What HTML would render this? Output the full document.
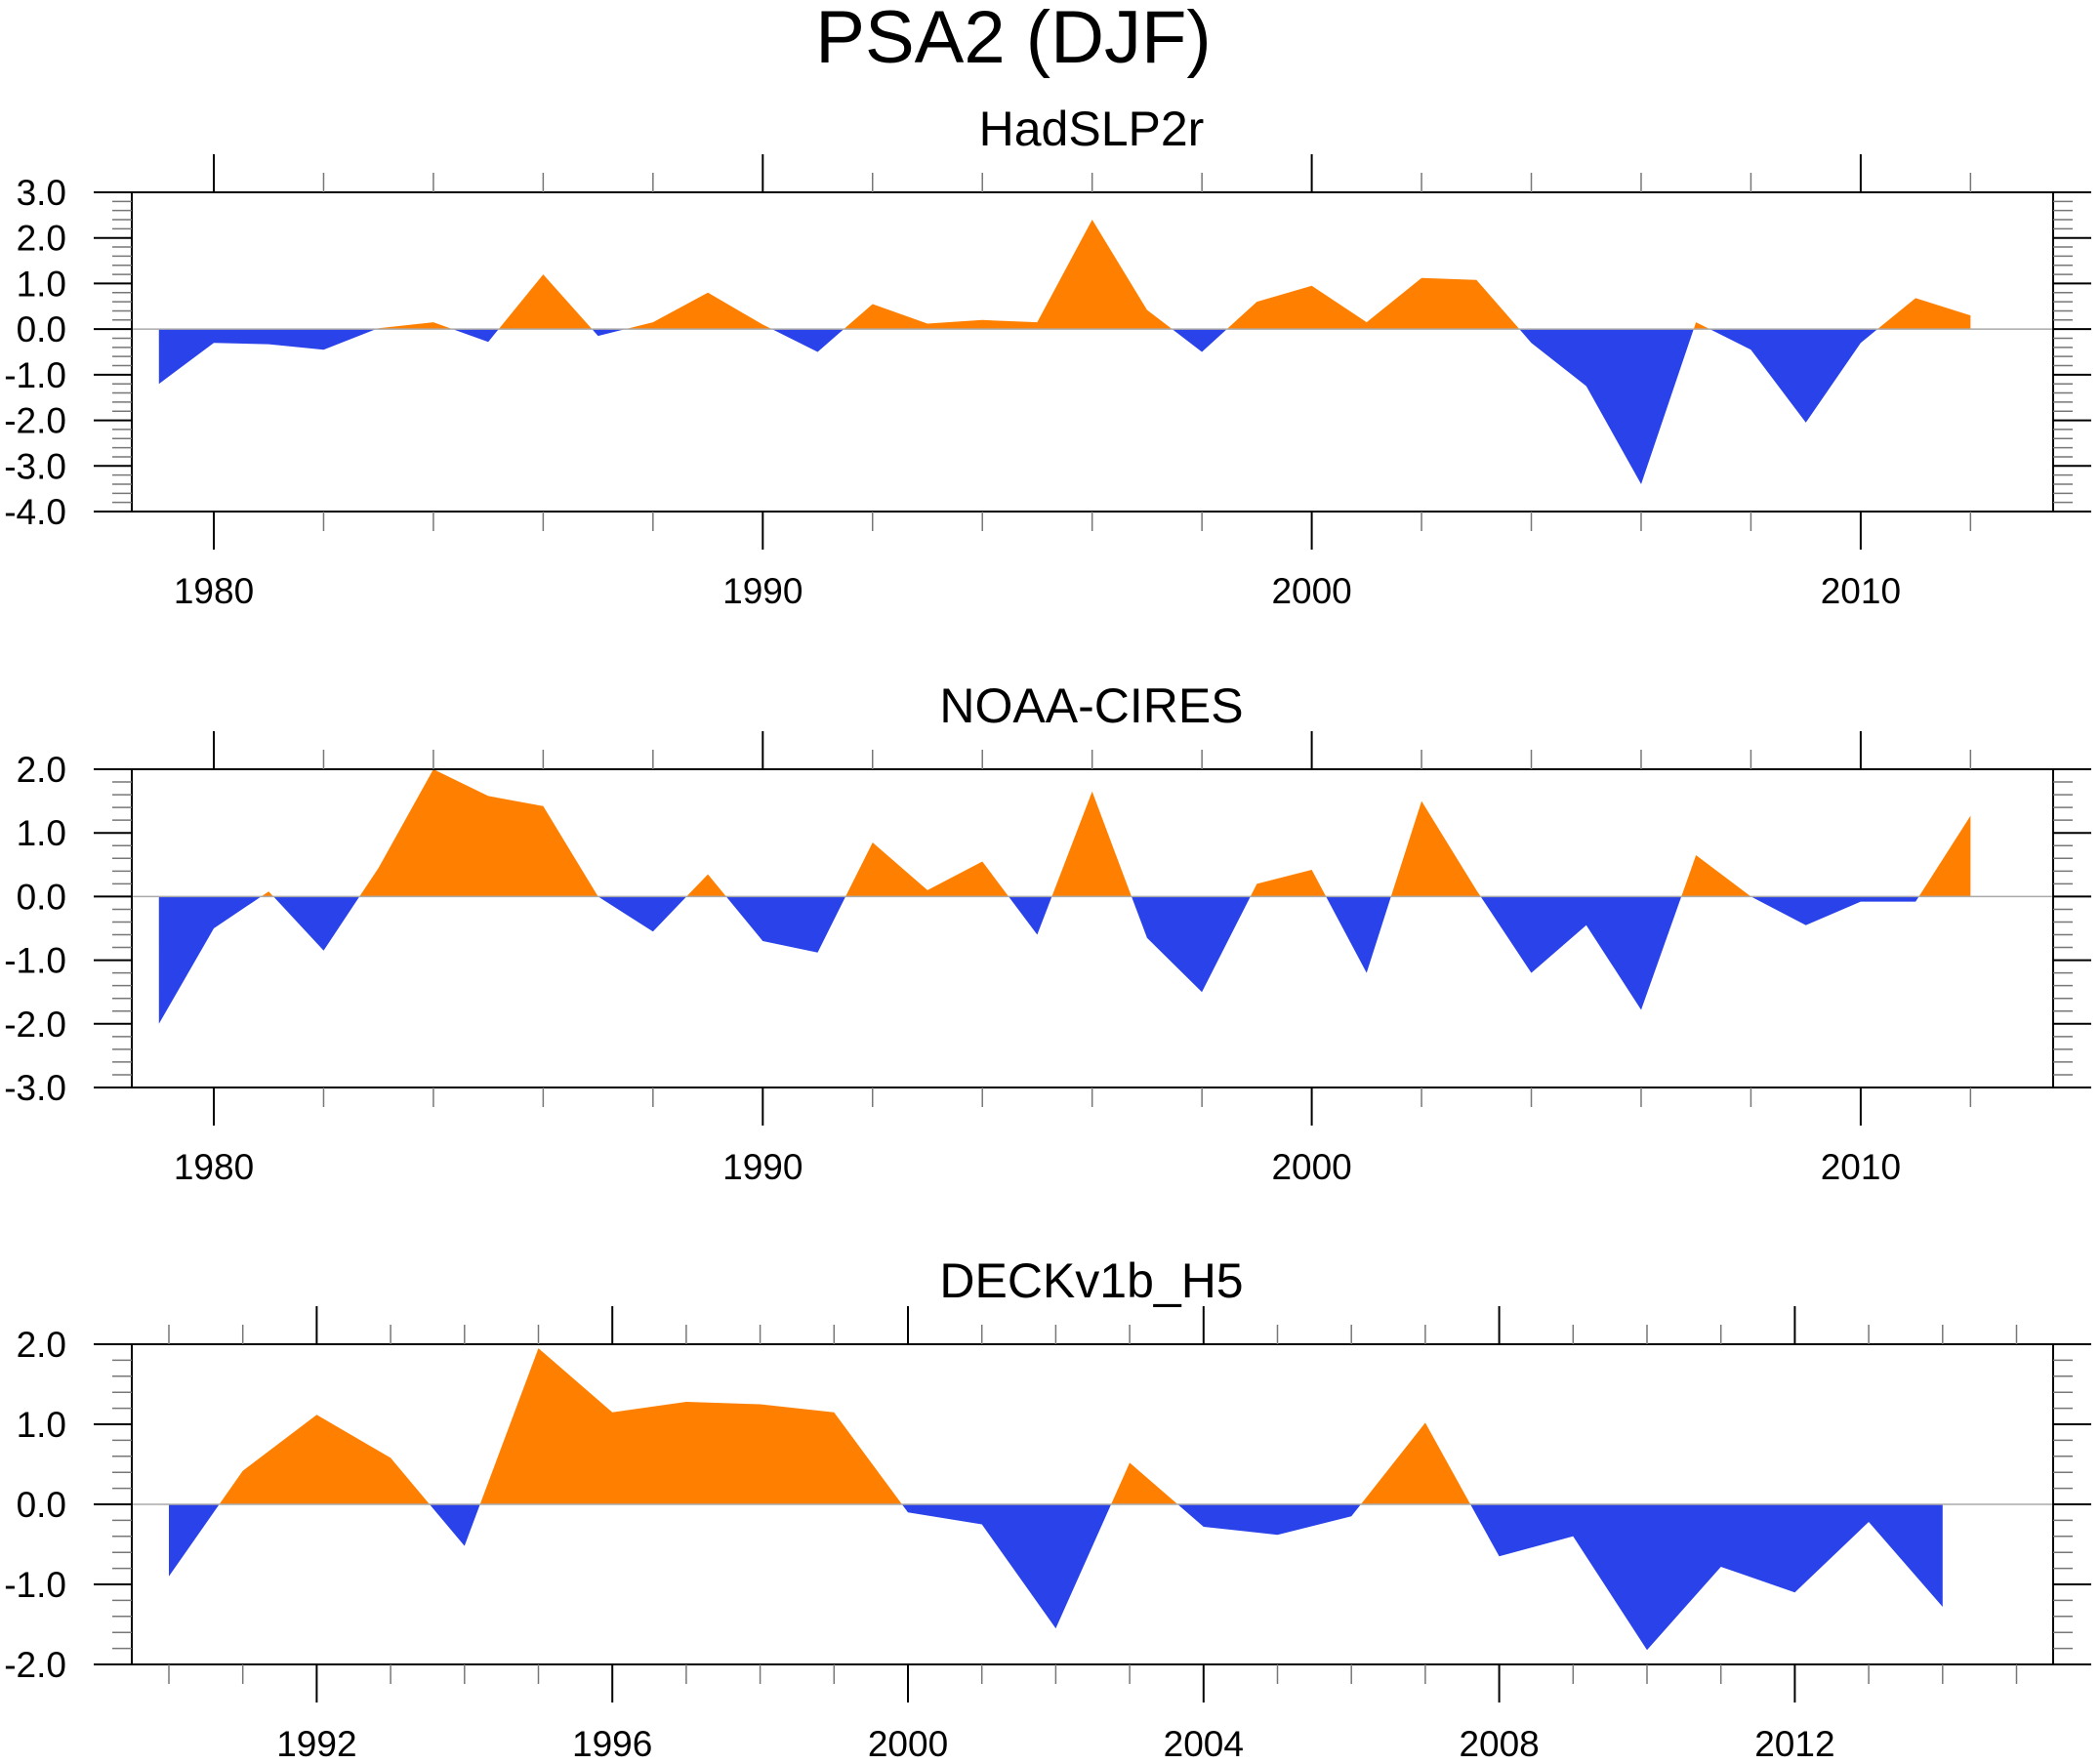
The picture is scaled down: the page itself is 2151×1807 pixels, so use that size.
<!DOCTYPE html>
<html><head><meta charset="utf-8"><style>
body{margin:0;background:#fff}
svg{display:block;font-family:"Liberation Sans",sans-serif}
</style></head><body>
<svg id="s" width="2151" height="1807" viewBox="0 0 2151 1807">
<text x="1038" y="64" font-size="76" text-anchor="middle">PSA2 (DJF)</text>
</svg>
<script>
const years1=[1979,1980,1981,1982,1983,1984,1985,1986,1987,1988,1989,1990,1991,1992,1993,1994,1995,1996,1997,1998,1999,2000,2001,2002,2003,2004,2005,2006,2007,2008,2009,2010,2011,2012];
const had=[-1.2,-0.3,-0.33,-0.45,0.02,0.15,-0.28,1.2,-0.15,0.15,0.8,0.1,-0.5,0.55,0.12,0.2,0.15,2.4,0.42,-0.5,0.6,0.95,0.15,1.12,1.08,-0.3,-1.25,-3.4,0.15,-0.45,-2.05,-0.3,0.68,0.3];
const noaa=[-2.0,-0.5,0.08,-0.85,0.45,2.0,1.58,1.42,0.0,-0.55,0.35,-0.7,-0.88,0.85,0.1,0.55,-0.6,1.65,-0.65,-1.5,0.2,0.42,-1.2,1.5,0.1,-1.2,-0.45,-1.78,0.65,0.0,-0.45,-0.08,-0.08,1.27];
const years3=[1990,1991,1992,1993,1994,1995,1996,1997,1998,1999,2000,2001,2002,2003,2004,2005,2006,2007,2008,2009,2010,2011,2012,2013,2014];
const deck=[-0.9,0.42,1.12,0.58,-0.52,1.95,1.15,1.28,1.25,1.15,-0.1,-0.25,-1.55,0.52,-0.28,-0.38,-0.15,1.02,-0.65,-0.4,-1.82,-0.78,-1.1,-0.22,-1.28];
const yTicks1=["3.0","2.0","1.0","0.0","-1.0","-2.0","-3.0","-4.0"];
const yTicks2=["2.0","1.0","0.0","-1.0","-2.0","-3.0"];
const yTicks3=["2.0","1.0","0.0","-1.0","-2.0"];
const xLabels1=[1980,1990,2000,2010];
const xLabels3=[1992,1996,2000,2004,2008,2012];

const S=document.getElementById('s');
const NS='http://www.w3.org/2000/svg';
function el(t,a){const e=document.createElementNS(NS,t);for(const k in a)e.setAttribute(k,a[k]);S.appendChild(e);return e;}

function panel(o){
  const L=135,R=2103,T=o.top,B=o.bot;
  const X=yr=>o.x0+(yr-o.yr0)*o.dx;
  const Y=v=>T+(o.ymax-v)*(B-T)/(o.ymax-o.ymin);
  const t=el('text',{x:1118,y:T-48,'font-size':50,'text-anchor':'middle'});t.textContent=o.title;
  
  
  const pts=[];
  for(let i=0;i<o.xs.length;i++){
    if(i>0){const a=o.vs[i-1],b=o.vs[i];if(a*b<0){const f=a/(a-b);pts.push([o.xs[i-1]+f*(o.xs[i]-o.xs[i-1]),0]);}}
    pts.push([o.xs[i],o.vs[i]]);
  }
  const y0=Y(0);
  for(const sign of [1,-1]){
    let d='M'+X(pts[0][0])+','+y0;
    for(const p of pts){const v=sign>0?Math.max(p[1],0):Math.min(p[1],0);d+=' L'+X(p[0]).toFixed(1)+','+Y(v).toFixed(1);}
    d+=' L'+X(pts[pts.length-1][0])+','+y0+'Z';
    const p=el('path',{d:d,fill:sign>0?'#FF8000':'#2942EA'});
    
    
  }
  el('line',{x1:L,x2:R,y1:y0,y2:y0,stroke:'#aaa','stroke-width':1.5});
  const fr=el('rect',{x:L,y:T,width:R-L,height:B-T,fill:'none',stroke:'#000','stroke-width':2});
  
  
  const n=o.yt.length;
  for(let i=0;i<n;i++){
    const v=o.ymax-i, y=Y(v);
    el('line',{x1:L-39,x2:L,y1:y,y2:y,stroke:'#000','stroke-width':2});
    el('line',{x1:R,x2:R+39,y1:y,y2:y,stroke:'#000','stroke-width':2});
    const tx=el('text',{x:68,y:y+13,'font-size':37,'text-anchor':'end'});tx.textContent=o.yt[i];
    
    
    if(i<n-1)for(let k=1;k<5;k++){const ym=Y(v-k*0.2);
      el('line',{x1:L-20,x2:L,y1:ym,y2:ym,stroke:'#777','stroke-width':1.5});
      el('line',{x1:R,x2:R+20,y1:ym,y2:ym,stroke:'#777','stroke-width':1.5});}
  }
  for(let yr=o.tk0;yr<=o.tk1;yr+=o.tkStep){
    const x=X(yr), maj=o.xl.includes(yr), len=maj?39:20;
    el('line',{x1:x,x2:x,y1:T-len,y2:T,stroke:maj?'#000':'#777','stroke-width':maj?2:1.5});
    el('line',{x1:x,x2:x,y1:B,y2:B+len,stroke:maj?'#000':'#777','stroke-width':maj?2:1.5});
  }
  for(const yr of o.xl){
    const tx=el('text',{x:X(yr),y:B+94,'font-size':37,'text-anchor':'middle'});tx.textContent=yr;
    
    
  }
}
panel({title:'HadSLP2r',name:'hadslp2r',top:197,bot:524,ymax:3,ymin:-4,yt:yTicks1,xs:years1,vs:had,x0:219,yr0:1980,dx:56.23,tk0:1980,tk1:2012,tkStep:2,xl:xLabels1});
panel({title:'NOAA-CIRES',name:'noaa-cires',top:788,bot:1114,ymax:2,ymin:-3,yt:yTicks2,xs:years1,vs:noaa,x0:219,yr0:1980,dx:56.23,tk0:1980,tk1:2012,tkStep:2,xl:xLabels1});
panel({title:'DECKv1b_H5',name:'deckv1b-h5',top:1377,bot:1705,ymax:2,ymin:-2,yt:yTicks3,xs:years3,vs:deck,x0:930,yr0:2000,dx:75.7,tk0:1990,tk1:2015,tkStep:1,xl:xLabels3});
</script>
</body></html>
